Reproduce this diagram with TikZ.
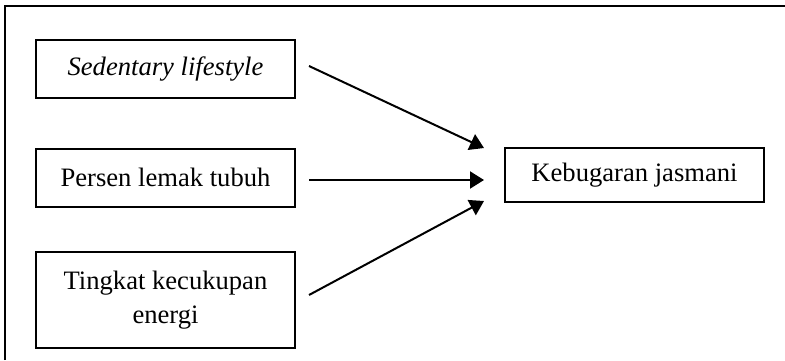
\documentclass[tikz,border=0pt]{standalone}
\usepackage{fontspec}
\setmainfont{Liberation Serif}
\usetikzlibrary{arrows.meta}

\begin{document}
\begin{tikzpicture}[x=0.5pt,y=-0.5pt,
        varbox/.style={draw,line width=1pt,minimum width=129.5pt,align=center,
            inner sep=2pt,font=\fontsize{13.3}{17}\selectfont},
        link/.style={line width=1pt,-{Triangle[length=7pt,width=8.5pt]}}]
        \useasboundingbox (0,0) rectangle (785,360);
        \draw[line width=1pt] (5,360) -- (5,6) -- (785,6);% frame

        \node[varbox,minimum height=29pt] (sed) at (165.5,69) {\textit{Sedentary lifestyle}};
        \node[varbox,minimum height=29pt] (lemak) at (165.5,177.5) {Persen lemak tubuh};
        \node[varbox,minimum height=48pt] (energi) at (165.5,300) {Tingkat kecukupan\\energi};
        \node[varbox,minimum height=27pt] (bugar) at (634.5,175) {Kebugaran jasmani};

        \draw[link] ([xshift=6.5pt,yshift=1.5pt]sed.east) -- ([xshift=-10pt,yshift=13.5pt]bugar.west);
        \draw[link] ([xshift=6.5pt,yshift=-1.25pt]lemak.east) -- ([xshift=-10pt,yshift=-2.5pt]bugar.west);
        \draw[link] ([xshift=6.5pt,yshift=2.5pt]energi.east) -- ([xshift=-10pt,yshift=-13pt]bugar.west);
    \end{tikzpicture}
\end{document}
